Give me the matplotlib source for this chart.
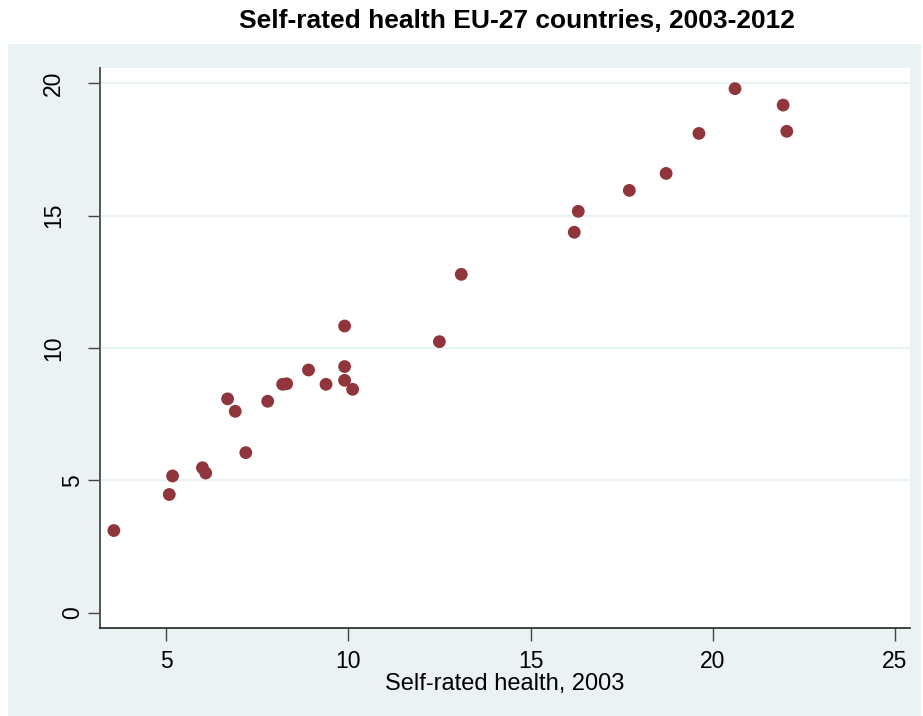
import matplotlib
matplotlib.use("Agg")
import matplotlib.pyplot as plt
from matplotlib.patches import Rectangle
from matplotlib.transforms import blended_transform_factory

# self-rated health (% bad/very bad), 2003 vs 2012, one point per EU-27 country
health_2003 = [3.57, 5.09, 5.18, 6.00, 6.09, 7.19, 6.69, 6.90, 7.79, 8.20,
               8.31, 8.91, 9.39, 9.90, 9.90, 10.12, 9.90, 12.50, 13.10, 16.20,
               16.31, 17.71, 18.72, 19.62, 20.61, 21.93, 22.03]
health_2012 = [3.11, 4.47, 5.17, 5.48, 5.28, 6.05, 8.08, 7.61, 7.99, 8.63,
               8.65, 9.17, 8.63, 9.30, 8.78, 8.44, 10.83, 10.24, 12.78, 14.37,
               15.16, 15.95, 16.59, 18.10, 19.79, 19.17, 18.18]
x_ticks = [5, 10, 15, 20, 25]
y_ticks = [0, 5, 10, 15, 20]

title = "Self-rated health EU-27 countries, 2003-2012"
x_label = "Self-rated health, 2003"

panel_bg = "#EAF2F3"
marker_color = "#90353B"

plt.rcParams["font.family"] = ["Liberation Sans", "DejaVu Sans"]

W, H = 923, 716
fig = plt.figure(figsize=(W / 100, H / 100), dpi=100)
fig.patch.set_facecolor("white")

# light outer panel behind the plot region
fig.add_artist(Rectangle((8 / W, 0), (921 - 8) / W, (H - 44) / H,
                         transform=fig.transFigure, facecolor=panel_bg,
                         edgecolor="none", zorder=0))

left, right, top, bottom = 100, 910, 68, 628
ax = fig.add_axes([left / W, 1 - bottom / H, (right - left) / W, (bottom - top) / H])
ax.set_facecolor("white")

ax.scatter(health_2003, health_2012, s=85, color=marker_color,
           edgecolors="none", zorder=3)

ax.set_xlim(3.19, 25.41)
ax.set_ylim(-0.57, 20.57)
ax.set_xticks(x_ticks)
ax.set_yticks(y_ticks)

for yv in y_ticks[1:]:
    ax.axhline(yv, color=panel_bg, lw=1.6, zorder=1)

for side in ("top", "right"):
    ax.spines[side].set_visible(False)
ax.spines["left"].set_color("#555555")
ax.spines["bottom"].set_color("#222222")
ax.spines["left"].set_linewidth(1.4)
ax.spines["bottom"].set_linewidth(1.2)

ax.tick_params(axis="both", length=9, width=1, color="#444444",
               labelsize=16.5, pad=7)

# y labels are rotated and shifted by their length, as in the source graph
ax.set_yticklabels([])
ytrans = blended_transform_factory(fig.transFigure, ax.transData)
for yv in y_ticks:
    s = str(yv)
    cx = (72.5 - (len(s) - 1) * 19) / W
    ax.text(cx, yv, s, transform=ytrans, rotation=90, ha="center",
            va="center", fontsize=16.5)

ax.set_xlabel(x_label, fontsize=17, labelpad=0)
fig.text(517 / W, 1 - 21 / H, title, ha="center", va="center",
         fontsize=19, fontweight="bold")

fig.savefig("out.png", dpi=100)
